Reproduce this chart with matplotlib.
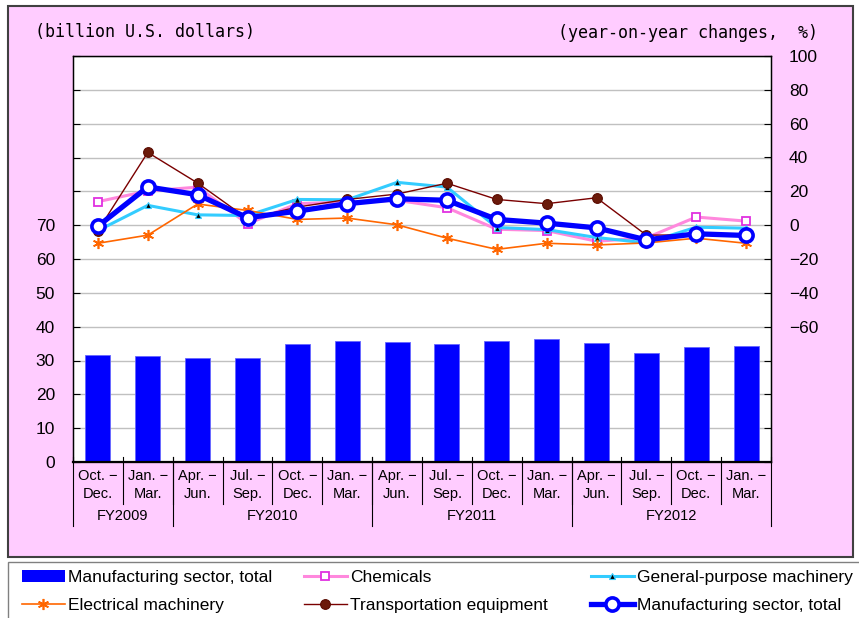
"""Экспорт обрабатывающей промышленности: объём (столбцы) и темпы роста г/г по отраслям (линии)."""
import matplotlib
matplotlib.use("Agg")
import matplotlib.pyplot as plt
import numpy as np
from matplotlib.patches import Rectangle
from matplotlib.ticker import FixedLocator, FuncFormatter
from matplotlib.lines import Line2D

# --- данные
periods = ["Oct. \u2212\nDec.", "Jan. \u2212\nMar.", "Apr. \u2212\nJun.", "Jul. \u2212\nSep.",
           "Oct. \u2212\nDec.", "Jan. \u2212\nMar.", "Apr. \u2212\nJun.", "Jul. \u2212\nSep.",
           "Oct. \u2212\nDec.", "Jan. \u2212\nMar.", "Apr. \u2212\nJun.", "Jul. \u2212\nSep.",
           "Oct. \u2212\nDec.", "Jan. \u2212\nMar."]
fiscal_years = ["FY2009", "FY2010", "FY2011", "FY2012"]
fy_sizes = [2, 4, 4, 4]

total_bn = [31.6, 31.3, 30.7, 30.8, 34.8, 35.7, 35.6, 34.9, 35.7, 36.3, 35.2, 32.1, 34.1, 34.3]

yoy_chemicals = [13.9, 20.2, 22.5, 0.8, 12.7, 13.7, 14.7, 10.3, -2.4, -3.2, -9.5, -7.5, 4.8, 2.4]
yoy_general = [-3.2, 11.7, 6.1, 5.7, 15.2, 15.0, 25.3, 22.5, -1.4, -2.6, -7.3, -10.5, -1.2, -1.8]
yoy_electrical = [-10.7, -5.9, 12.5, 8.7, 3.4, 4.2, 0.2, -7.7, -14.3, -10.7, -11.7, -10.5, -7.7, -10.7]
yoy_transport = [-3.2, 43.0, 24.9, 3.8, 10.7, 15.2, 18.4, 24.8, 15.2, 12.7, 16.2, -5.9, -5.7, -5.7]
yoy_total = [-0.6, 22.6, 18.0, 4.4, 8.3, 12.7, 15.6, 14.7, 3.4, 1.2, -1.6, -8.7, -5.1, -6.1]

PINK = "#FFCCFF"
TICK_FONT = ["Liberation Sans", "DejaVu Sans"]
MONO_FONT = ["DejaVu Sans Mono"]

W, H = 859, 618
fig = plt.figure(figsize=(W / 100, H / 100), dpi=100, facecolor="white")

# фон: розовая панель и белая рамка легенды
fig.patches.append(Rectangle((8 / W, 1 - 557 / H), 845 / W, 551 / H, transform=fig.transFigure,
                             facecolor=PINK, edgecolor="#404040", linewidth=1.5, zorder=-10))
fig.patches.append(Rectangle((8 / W, -0.02), 0.995, (618 - 562) / H + 0.02, transform=fig.transFigure,
                             facecolor="white", edgecolor="#808080", linewidth=1.0, zorder=-10))

ax = fig.add_axes([73 / W, 1 - 462 / H, (771 - 73) / W, (462 - 56) / H])
ax.set_facecolor("white")
x = np.arange(len(periods))
ax.bar(x, total_bn, width=0.5, color="#0000FF", edgecolor="#6666FF", linewidth=0.6, zorder=2)
ax.set_xlim(-0.5, len(periods) - 0.5)
ax.set_ylim(0, 120)
ax.yaxis.set_major_locator(FixedLocator(np.arange(0, 121, 10)))
ax.yaxis.set_major_formatter(FuncFormatter(lambda v, p: f"{v:.0f}" if v <= 70 else ""))
ax.grid(axis="y", color="#C0C0C0", linewidth=1.0, zorder=0)
ax.set_axisbelow(True)
ax.set_xticks([])
ax.tick_params(axis="y", direction="in", length=5, pad=13, labelsize=12.5, color="black")
for lab in ax.get_yticklabels():
    lab.set_fontfamily(TICK_FONT)
for s in ax.spines.values():
    s.set_color("black")
    s.set_linewidth(1.0)
ax.spines["bottom"].set_linewidth(1.6)

# правая ось — темпы роста
ax2 = ax.twinx()
ax2.set_ylim(-140, 100)
ax2.yaxis.set_major_locator(FixedLocator(np.arange(-140, 101, 20)))
ax2.yaxis.set_major_formatter(FuncFormatter(lambda v, p: f"{v:.0f}".replace("-", "\u2212") if v >= -60 else ""))
ax2.tick_params(axis="y", direction="in", length=5, pad=13, labelsize=12.5)
for lab in ax2.get_yticklabels():
    lab.set_fontfamily(TICK_FONT)

series = [
    ("Chemicals", yoy_chemicals, dict(color="#FF88DD", lw=2.2, marker="s", ms=6, mfc="white", mec="#E030E0", mew=1.3)),
    ("General-purpose machinery", yoy_general, dict(color="#33CCFF", lw=2.2, marker="^", ms=5, mfc="black", mec="#33CCFF", mew=0.8)),
    ("Electrical machinery", yoy_electrical, dict(color="#FF6600", lw=1.2, marker=(6, 2, 0), ms=8, mec="#FF6600", mew=1.2)),
    ("Transportation equipment", yoy_transport, dict(color="#7A0000", lw=1.0, marker="o", ms=7, mfc="#6B1A0A", mec="#5A0A00", mew=0.8)),
    ("Manufacturing sector, total", yoy_total, dict(color="#0000FF", lw=3.8, marker="o", ms=9.5, mfc="white", mec="#0000FF", mew=2.6)),
]
handles = {}
for name, vals, kw in series:
    handles[name], = ax2.plot(x, vals, label=name, **kw)

# подписи категорий под осью
tr = ax.get_xaxis_transform()
for i, lab in enumerate(periods):
    top, bot = lab.split("\n")
    ax.text(i, -0.035, top, transform=tr, ha="center", va="center", fontsize=10.5, family=TICK_FONT)
    ax.text(i, -0.079, bot, transform=tr, ha="center", va="center", fontsize=10.5, family=TICK_FONT)
for i in range(1, len(periods)):
    ax.add_line(Line2D([i - 0.5, i - 0.5], [0.012, -0.103], transform=tr, color="black", lw=0.8, clip_on=False))
edges = np.concatenate([[0], np.cumsum(fy_sizes)]) - 0.5
for e in edges:
    ax.add_line(Line2D([e, e], [0.012, -0.158], transform=tr, color="black", lw=0.8, clip_on=False))
for fy, a, b in zip(fiscal_years, edges[:-1], edges[1:]):
    ax.text((a + b) / 2, -0.133, fy, transform=tr, ha="center", va="center", fontsize=10.5, family=TICK_FONT)

fig.text(35 / W, 1 - 32 / H, "(billion U.S. dollars)", ha="left", va="center", fontsize=12, family=MONO_FONT)
fig.text(818 / W, 1 - 33 / H, "(year-on-year changes,  %)", ha="right", va="center", fontsize=12, family=MONO_FONT)

# легенда: три отдельные колонки, как в исходнике
bar_handle = Rectangle((0, 0), 1, 1, facecolor="#0000FF")
columns = [
    (22, [(bar_handle, "Manufacturing sector, total"), (handles["Electrical machinery"], "Electrical machinery")]),
    (304, [(handles["Chemicals"], "Chemicals"), (handles["Transportation equipment"], "Transportation equipment")]),
    (591, [(handles["General-purpose machinery"], "General-purpose machinery"), (handles["Manufacturing sector, total"], "Manufacturing sector, total")]),
]
for x0, items in columns:
    fig.legend([h for h, _ in items], [t for _, t in items], loc="center left",
               bbox_to_anchor=(x0 / W, 1 - 591.5 / H), frameon=False, borderaxespad=0, borderpad=0,
               handlelength=2.45, handletextpad=0.2, labelspacing=0.72,
               prop={"family": TICK_FONT, "size": 12.5})

fig.savefig("out.png", dpi=100, facecolor=fig.get_facecolor())
